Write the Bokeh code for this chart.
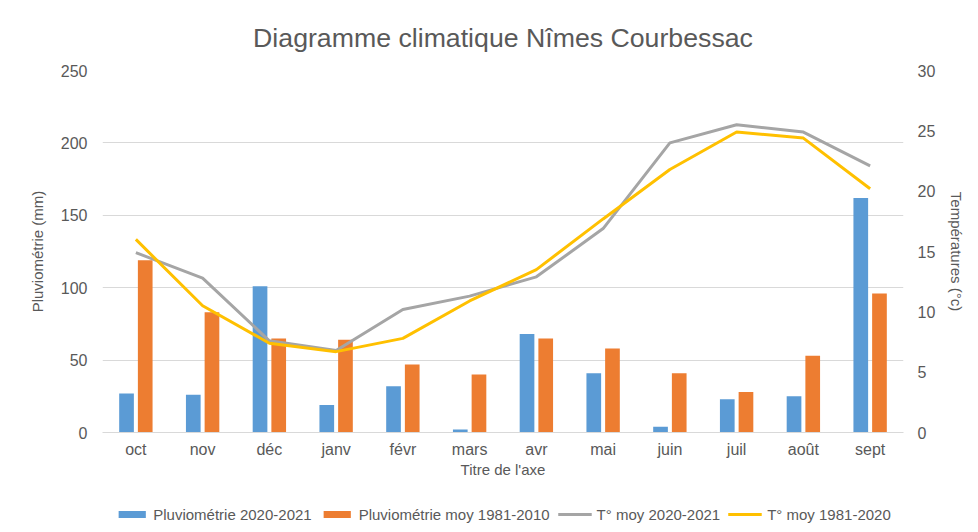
from bokeh.plotting import figure
from bokeh.layouts import column
from bokeh.models import (ColumnDataSource, FactorRange, Range1d, LinearAxis,
                          FixedTicker, Legend, LegendItem)
from bokeh.transform import dodge
from bokeh.embed import file_html
from bokeh.resources import INLINE

months = ["oct", "nov", "déc", "janv", "févr", "mars", "avr", "mai", "juin", "juil", "août", "sept"]
rain_2020_2021 = [27, 26, 101, 19, 32, 2, 68, 41, 4, 23, 25, 162]
rain_1981_2010 = [119, 83, 65, 64, 47, 40, 65, 58, 41, 28, 53, 96]
temp_2020_2021 = [14.9, 12.8, 7.6, 6.8, 10.2, 11.3, 12.9, 16.9, 24.0, 25.5, 24.9, 22.1]
temp_1981_2020 = [16.0, 10.5, 7.4, 6.7, 7.8, 10.9, 13.5, 17.7, 21.8, 24.9, 24.4, 20.2]
rain_ticks = [0, 50, 100, 150, 200, 250]
temp_ticks = [0, 5, 10, 15, 20, 25, 30]
series_labels = ["Pluviométrie 2020-2021", "Pluviométrie moy 1981-2010",
                 "T° moy 2020-2021", "T° moy 1981-2020"]

TXT = "#595959"
FONT = "Liberation Sans"
C_BLUE, C_ORANGE, C_GRAY, C_YELLOW = "#5B9BD5", "#ED7D31", "#A5A5A5", "#FFC000"

src = ColumnDataSource(dict(month=months, r1=rain_2020_2021, r2=rain_1981_2010,
                            t1=temp_2020_2021, t2=temp_1981_2020))

p = figure(width=970, height=500, x_range=FactorRange(factors=months, range_padding=0),
           y_range=Range1d(0, 250), output_backend="svg", toolbar_location=None,
           min_border_left=102, min_border_right=67, min_border_top=70, min_border_bottom=68)
p.extra_y_ranges = {"temp": Range1d(0, 30)}

p.title.text = "Diagramme climatique Nîmes Courbessac"
p.title.align = "center"
p.title.text_font = FONT
p.title.text_font_size = "26.7px"
p.title.text_font_style = "normal"
p.title.text_color = TXT
p.title.standoff = 35

p.vbar(x=dodge("month", -0.14, range=p.x_range), top="r1", width=0.22, source=src,
       fill_color=C_BLUE, line_color=None)
p.vbar(x=dodge("month", 0.14, range=p.x_range), top="r2", width=0.22, source=src,
       fill_color=C_ORANGE, line_color=None)
p.line(x="month", y="t1", source=src, y_range_name="temp", line_color=C_GRAY, line_width=3)
p.line(x="month", y="t2", source=src, y_range_name="temp", line_color=C_YELLOW, line_width=3)

# axes
p.yaxis.ticker = FixedTicker(ticks=rain_ticks)
p.yaxis.axis_label = "Pluviométrie (mm)"
p.xaxis.axis_label = "Titre de l'axe"
raxis = LinearAxis(y_range_name="temp", ticker=FixedTicker(ticks=temp_ticks),
                   axis_label="Températures (°c)")
p.add_layout(raxis, "right")

for ax in [p.xaxis[0], p.yaxis[0], raxis]:
    ax.major_tick_line_color = None
    ax.minor_tick_line_color = None
    ax.major_tick_out = 0
    ax.major_tick_in = 0
    ax.minor_tick_out = 0
    ax.minor_tick_in = 0
    ax.major_label_text_font = FONT
    ax.major_label_text_font_size = "16px"
    ax.major_label_text_color = TXT
    ax.axis_label_text_font = FONT
    ax.axis_label_text_font_size = "15px"
    ax.axis_label_text_font_style = "normal"
    ax.axis_label_text_color = TXT

p.xaxis.axis_line_color = "#D9D9D9"
p.xaxis.major_label_standoff = 8
p.xaxis.axis_label_standoff = 0
p.yaxis.axis_line_color = None
p.yaxis.major_label_standoff = 15
p.yaxis.axis_label_standoff = 12
raxis.axis_line_color = None
raxis.major_label_standoff = 14
raxis.axis_label_standoff = 10

p.xgrid.grid_line_color = None
p.ygrid.grid_line_color = "#D9D9D9"
p.outline_line_color = None

# legend strip below the chart (hidden proxy renderers of the same data)
pl = figure(width=970, height=28, x_range=FactorRange(factors=months), y_range=Range1d(0, 250),
            output_backend="svg", toolbar_location=None, x_axis_type=None, y_axis_type=None,
            min_border_left=35, min_border_right=0, min_border_top=0, min_border_bottom=0)
pl.grid.visible = False
pl.outline_line_color = None
g1 = pl.vbar(x="month", top="r1", width=0.2, source=src, fill_color=C_BLUE, line_color=None, visible=False)
g2 = pl.vbar(x="month", top="r2", width=0.2, source=src, fill_color=C_ORANGE, line_color=None, visible=False)
g3 = pl.line(x="month", y="t1", source=src, line_color=C_GRAY, line_width=3, visible=False)
g4 = pl.line(x="month", y="t2", source=src, line_color=C_YELLOW, line_width=3, visible=False)

legend = Legend(items=[LegendItem(label=lab, renderers=[g])
                       for lab, g in zip(series_labels, [g1, g2, g3, g4])],
                orientation="horizontal", location="center")
legend.label_text_font = FONT
legend.label_text_font_size = "15px"
legend.label_text_color = TXT
legend.glyph_width = 34
legend.glyph_height = 9
legend.label_standoff = 5
legend.spacing = 8
legend.padding = 0
legend.margin = 0
legend.border_line_color = None
legend.background_fill_alpha = 0
legend.inactive_fill_alpha = 0
pl.add_layout(legend, "center")

layout = column(p, pl, spacing=0)
open("out.html", "w").write(file_html(layout, INLINE))
